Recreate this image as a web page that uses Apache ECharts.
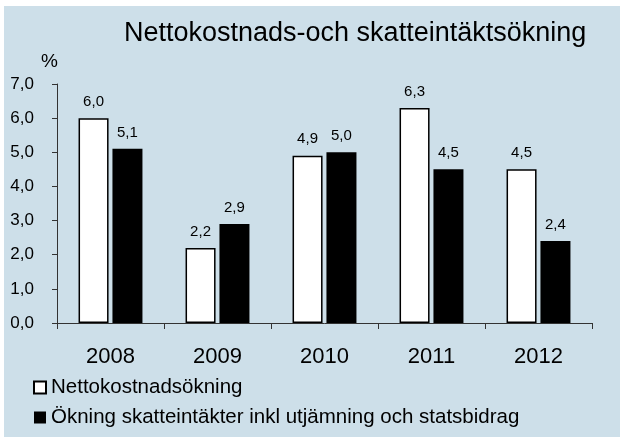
<!DOCTYPE html>
<html><head><meta charset="utf-8">
<script src="https://cdn.jsdelivr.net/npm/echarts@6/dist/echarts.min.js"></script>
<style>html,body{margin:0;padding:0;background:#fff}#c{width:620px;height:437px}</style>
</head><body><div id="c"></div>
<script>
const categories = ['2008','2009','2010','2011','2012'];
const nettoValues = [6.0, 2.2, 4.9, 6.3, 4.5];
const skattValues = [5.1, 2.9, 5.0, 4.5, 2.4];
const yTickLabels = ['0,0','1,0','2,0','3,0','4,0','5,0','6,0','7,0'];
const seriesNames = ['Nettokostnadsökning','Ökning skatteintäkter inkl utjämning och statsbidrag'];
const titleText = 'Nettokostnads-och skatteintäktsökning';

const fmt = v => v.toFixed(1).replace('.', ',');
const chart = echarts.init(document.getElementById('c'), null, {renderer:'canvas'});
chart.setOption({
  backgroundColor: '#ffffff',
  animation: false,
  graphic: [
    {type:'rect', z:-10, silent:true, shape:{x:4,y:6,width:616,height:431}, style:{fill:'#cddfe9'}},
    {type:'text', left:41, top:52, style:{text:'%', font:'19px "Liberation Sans", sans-serif', fill:'#000'}}
  ],
  title: {
    text: titleText, left: 119, top: 15,
    textStyle: {fontFamily:'"Liberation Sans",sans-serif', fontSize: 27, fontWeight:'normal', color:'#000'}
  },
  grid: {left:57, right:28, top:84, bottom:114, containLabel:false},
  legend: {
    orient:'vertical', left:28, top:372, itemWidth:12, itemHeight:12, itemGap:9,
    icon:'rect',
    textStyle:{fontFamily:'"Liberation Sans",sans-serif', fontSize:20.5, color:'#000', lineHeight:20},
    data: seriesNames
  },
  xAxis: {
    type:'category', data: categories,
    axisLine:{lineStyle:{color:'#333', width:1}},
    axisTick:{show:true, length:6, lineStyle:{color:'#333'}},
    axisLabel:{fontFamily:'"Liberation Sans",sans-serif', fontSize:22, color:'#000', margin:23}
  },
  yAxis: {
    type:'value', min:0, max:7, interval:1,
    axisLine:{show:true, lineStyle:{color:'#333', width:1}},
    axisTick:{show:true, length:5, lineStyle:{color:'#333'}},
    splitLine:{show:false},
    axisLabel:{fontFamily:'"Liberation Sans",sans-serif', fontSize:17, color:'#000', margin:23,
      formatter: v => yTickLabels[Math.round(v)]}
  },
  series: [
    {name:seriesNames[0], type:'bar', data:nettoValues, barWidth:30, barGap:'13%',
     itemStyle:{color:'#ffffff', borderColor:'#000', borderWidth:1.5},
     label:{show:true, position:'top', distance:9, fontFamily:'"Liberation Sans",sans-serif', fontSize:15, color:'#000', formatter:p=>fmt(p.value)}},
    {name:seriesNames[1], type:'bar', data:skattValues, barWidth:30,
     itemStyle:{color:'#000000'},
     label:{show:true, position:'top', distance:9, fontFamily:'"Liberation Sans",sans-serif', fontSize:15, color:'#000', formatter:p=>fmt(p.value)}}
  ]
});
</script></body></html>
